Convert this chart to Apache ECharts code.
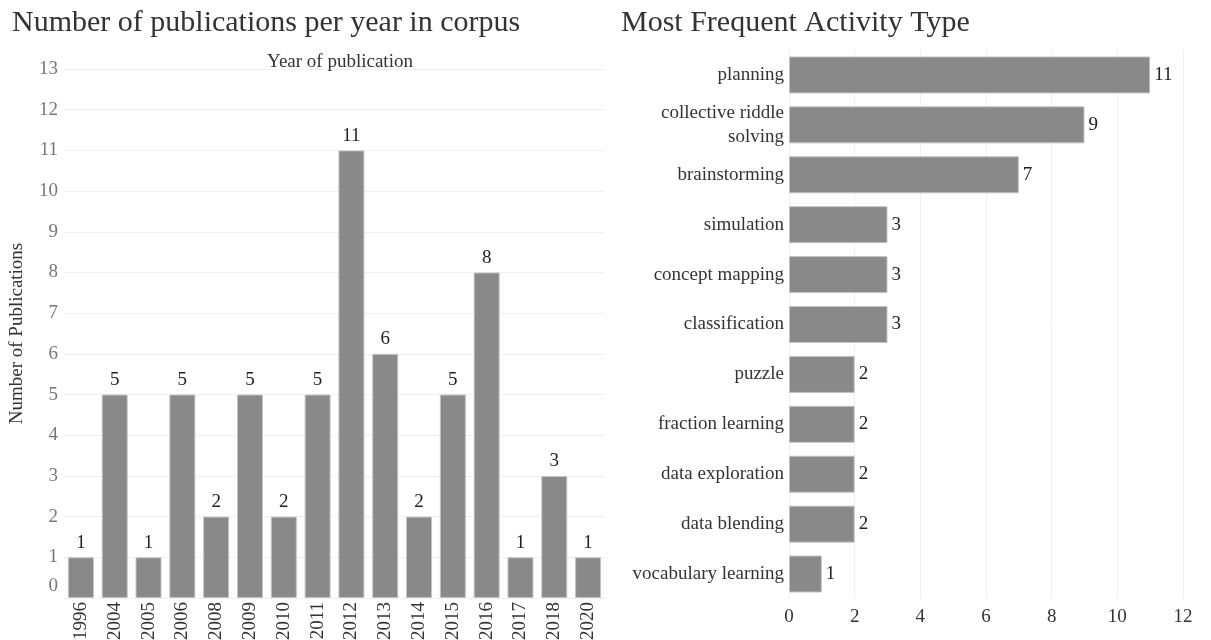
<!DOCTYPE html>
<html><head><meta charset="utf-8">
<script src="https://cdn.jsdelivr.net/npm/echarts@6/dist/echarts.min.js"></script>
<style>html,body{margin:0;padding:0;background:#fff}#c{width:1211px;height:640px}</style>
</head><body><div id="c"></div>
<script>
const years = ['1996','2004','2005','2006','2008','2009','2010','2011','2012','2013','2014','2015','2016','2017','2018','2020'];
const pubCounts = [1,5,1,5,2,5,2,5,11,6,2,5,8,1,3,1];
const activities = ['planning','collective riddle\nsolving','brainstorming','simulation','concept mapping','classification','puzzle','fraction learning','data exploration','data blending','vocabulary learning'];
const activityCounts = [11,9,7,3,3,3,2,2,2,2,1];

const FONT = 'Liberation Serif';
const FS = 19;
const chart = echarts.init(document.getElementById('c'));
const barStyle = {color:'#898989', borderColor:'#c4c4c4', borderWidth:1};
chart.setOption({
  animation:false,
  textStyle:{fontFamily:FONT},
  title:[
    {text:'Number of publications per year in corpus', left:7, top:3, textStyle:{fontFamily:FONT, fontSize:30, fontWeight:'normal', color:'#333'}},
    {text:'Most Frequent Activity Type', left:616, top:3, textStyle:{fontFamily:FONT, fontSize:30, fontWeight:'normal', color:'#333'}},
    {text:'Year of publication', left:335, top:48, textAlign:'center', textStyle:{fontFamily:FONT, fontSize:FS, fontWeight:'normal', color:'#333'}}
  ],
  grid:[
    {left:64, right:606, top:69, bottom:42, outerBoundsMode:'none', containLabel:false},
    {left:789, right:28, top:50, bottom:41, outerBoundsMode:'none', containLabel:false}
  ],
  xAxis:[
    {type:'category', gridIndex:0, data:years,
     axisLine:{show:true, lineStyle:{color:'#eee'}}, axisTick:{show:false},
     axisLabel:{rotate:90, fontFamily:FONT, fontSize:FS, color:'#333', margin:4}},
    {type:'value', gridIndex:1, min:0, max:12, interval:2,
     axisLine:{show:false}, axisTick:{show:false},
     splitLine:{lineStyle:{color:'#f0f0f0'}},
     axisLabel:{fontFamily:FONT, fontSize:FS, color:'#333', margin:9}}
  ],
  yAxis:[
    {type:'value', gridIndex:0, min:0, max:13, interval:1,
     name:'Number of Publications', nameLocation:'middle', nameRotate:90, nameGap:37,
     nameTextStyle:{fontFamily:FONT, fontSize:FS, color:'#333'},
     axisLine:{show:false}, axisTick:{show:false},
     splitLine:{lineStyle:{color:'#f0f0f0'}},
     axisLabel:{fontFamily:FONT, fontSize:FS, color:'#777', margin:6,
       formatter:function(v){return v===0 ? '{z|0}' : String(v);},
       rich:{z:{fontFamily:FONT, fontSize:FS, color:'#777', padding:[0,0,24,0]}}}},
    {type:'category', gridIndex:1, data:activities, inverse:true,
     axisLine:{show:false}, axisTick:{show:false},
     axisLabel:{fontFamily:FONT, fontSize:FS, color:'#333', margin:5, lineHeight:24, align:'right'}}
  ],
  series:[
    {type:'bar', xAxisIndex:0, yAxisIndex:0, data:pubCounts, barWidth:26, itemStyle:barStyle,
     label:{show:true, position:'top', fontFamily:FONT, fontSize:FS, color:'#222', distance:5}},
    {type:'bar', xAxisIndex:1, yAxisIndex:1, data:activityCounts, barWidth:37, itemStyle:barStyle,
     label:{show:true, position:'right', fontFamily:FONT, fontSize:FS, color:'#222', distance:4}}
  ]
});
</script></body></html>
